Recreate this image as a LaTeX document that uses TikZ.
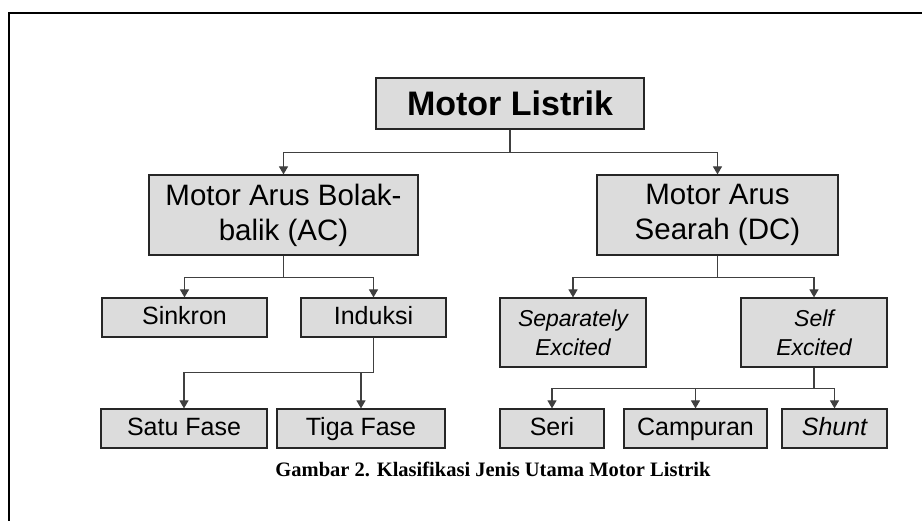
\documentclass[tikz,border=0pt]{standalone}
\usepackage{fontspec}
\setmainfont{Liberation Sans}
\newfontfamily\capfont{Liberation Serif}
\usetikzlibrary{arrows.meta}
\definecolor{boxgray}{RGB}{220,220,220}
\definecolor{linegray}{RGB}{64,64,64}
\begin{document}
\begin{tikzpicture}[x=1pt,y=-1pt,
  basebox/.style={draw=black!85, line width=1.2pt, fill=boxgray, inner sep=0pt, align=center},
  box/.style={basebox, minimum height=39pt, text height=19.5pt, text depth=4.5pt, font=\fontsize{25}{29}\selectfont},
  bigbox/.style={basebox, minimum height=80pt, font=\fontsize{29.5}{35}\selectfont},
  tallbox/.style={basebox, minimum height=69pt, font=\itshape\fontsize{23}{29}\selectfont},
  conn/.style={draw=linegray, line width=1.2pt, -{Triangle[length=8pt,width=9pt]}}]
\useasboundingbox[fill=white] (0,0) rectangle (922,521);
\draw[line width=2pt] (9,522) -- (9,12.7) -- (923,12.7);

\node[basebox, minimum width=268pt, minimum height=51pt, font=\bfseries\fontsize{34}{38}\selectfont] (ml) at (510,103.5) {Motor Listrik};
\node[bigbox, minimum width=269pt] (ac) at (283.5,215) {Motor Arus Bolak-\\balik (AC)};
\node[bigbox, minimum width=241pt] (dc) at (717.5,215) {Motor Arus\\Searah (DC)};
\node[box, minimum width=165pt] (sk) at (184.5,317.5) {Sinkron};
\node[box, minimum width=145pt] (in) at (373.5,317.5) {Induksi};
\node[tallbox, minimum width=146pt] (se) at (573,332.5) {Separately\\Excited};
\node[tallbox, minimum width=146pt] (sf) at (814,332.5) {Self\\Excited};
\node[box, minimum width=166pt] (sa) at (184,428.5) {Satu Fase};
\node[box, minimum width=168pt] (tg) at (361,428.5) {Tiga Fase};
\node[box, minimum width=104pt] (seri) at (552,428.5) {Seri};
\node[box, minimum width=143pt] (camp) at (695.5,428.5) {Campuran};
\node[box, minimum width=105pt, font=\itshape\fontsize{25}{29}\selectfont] (shunt) at (834.5,428.5) {Shunt};

\node[font=\capfont\bfseries\fontsize{20.5}{24}\selectfont, anchor=base, inner sep=0pt] (cap) at (493,477) {Gambar 2. Klasifikasi Jenis Utama Motor Listrik};

\draw[conn] (ml.south) -- ++(0,23) -| (ac.north);
\draw[conn] (ml.south) -- ++(0,23) -| (dc.north);
\draw[conn] (ac.south) -- ++(0,22) -| (sk.north);
\draw[conn] (ac.south) -- ++(0,22) -| (in.north);
\draw[conn] (in.south) -- ++(0,35) -| (sa.north);
\draw[conn] (in.south) -- ++(0,35) -| (tg.north);
\draw[conn] (dc.south) -- ++(0,22) -| (se.north);
\draw[conn] (dc.south) -- ++(0,22) -| (sf.north);
\draw[conn] (sf.south) -- ++(0,21) -| (seri.north);
\draw[conn] (sf.south) -- ++(0,21) -| (camp.north);
\draw[conn] (sf.south) -- ++(0,21) -| (shunt.north);
\end{tikzpicture}
\end{document}
